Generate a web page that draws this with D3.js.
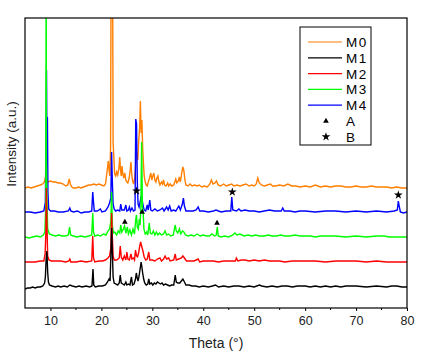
<!DOCTYPE html>
<html>
<head>
<meta charset="utf-8">
<script src="https://cdn.jsdelivr.net/npm/d3@7"></script>
<style>
  body { margin: 0; background: #fff; }
  text { font-family: "Liberation Sans", Arial, sans-serif; }
</style>
</head>
<body>
<div id="chart"></div>
<script>
// XRD patterns, [theta, intensity above own baseline]
const m0Data = [[5,0],[5.6,1],[6.2,0],[6.8,1],[7.4,2],[8,3],[8.5,4],[8.8,6],[9.0,10],[9.15,16],[9.3,9],[9.5,6],[10,7],[10.5,6],[11,6],[11.5,5],[12,5],[12.5,4],[13,2],[13.4,3],[13.7,9],[13.9,4],[14.2,1],[14.5,0],[15,0],[15.5,1],[16,0],[16.5,1],[17,2],[17.5,3],[18,3],[18.5,4],[19,3],[19.5,4],[20,3],[20.5,2],[20.8,4],[21.0,12],[21.2,20],[21.35,27],[21.5,18],[21.65,12],[21.8,40],[21.95,300],[22.15,300],[22.3,45],[22.45,30],[22.6,14],[22.8,12],[23.0,16],[23.2,13],[23.45,20],[23.6,31],[23.75,18],[23.9,12],[24.05,22],[24.2,14],[24.4,10],[24.6,15],[24.8,8],[25.0,6],[25.2,5],[25.45,10],[25.65,18],[25.8,26],[25.95,14],[26.1,8],[26.3,4],[26.5,8],[26.7,20],[26.85,30],[27.0,35],[27.15,28],[27.3,45],[27.5,60],[27.65,87],[27.8,55],[27.95,68],[28.1,40],[28.25,25],[28.4,12],[28.6,6],[28.8,3],[29.0,2],[29.2,6],[29.45,10],[29.7,15],[29.9,8],[30.1,12],[30.3,15],[30.5,8],[30.7,6],[30.9,10],[31.1,12],[31.3,6],[31.5,3],[31.8,6],[32.0,4],[32.2,8],[32.4,3],[32.7,2],[33.0,5],[33.2,2],[33.5,4],[33.8,2],[34.2,3],[34.6,9],[34.8,5],[35.1,7],[35.3,11],[35.5,6],[35.8,16],[36.0,21],[36.2,17],[36.4,8],[36.6,3],[37,2],[37.4,4],[37.8,2],[38.3,3],[38.8,2],[39.2,3],[39.7,1],[40.2,2],[40.8,1],[41.3,4],[41.6,8],[41.9,4],[42.3,5],[42.6,7],[42.9,3],[43.4,2],[44,4],[44.5,2],[45,3],[45.6,4],[46,2],[46.6,3],[47.2,2],[47.8,3],[48.4,4],[49,2],[49.5,3],[50,2],[50.4,4],[50.7,10],[51,5],[51.4,3],[52,2],[52.6,3],[53.2,4],[53.6,2],[54.2,2],[55,3],[55.8,2],[56.6,4],[57.4,2],[58.2,2],[59,1],[60,2],[61,1],[62,3],[63,1],[64,2],[65,1],[66,2],[67,2],[68,1],[69,1],[70,2],[71,1],[72,1],[73,2],[74,1],[75,1],[76,1],[77,0],[78,1],[79,0],[80,0]];

const m1Data = [[5,-2],[5.5,-1],[6,-1],[6.5,0],[7,-1],[7.5,0],[8,0],[8.5,1],[8.85,4],[9.0,10],[9.15,28],[9.3,36],[9.45,15],[9.6,5],[9.8,2],[10.3,1],[11,0],[11.5,1],[12,0],[12.7,1],[13.3,0],[13.8,2],[14.3,1],[15,0],[15.6,1],[16.2,0],[17,1],[17.7,0],[18.15,1],[18.35,18],[18.5,2],[18.8,0],[19.5,1],[20.2,1],[20.8,2],[21.2,5],[21.5,8],[21.7,6],[21.85,30],[22.0,59],[22.15,35],[22.3,10],[22.5,4],[22.8,3],[23.2,2],[23.5,4],[23.7,12],[23.9,4],[24.2,3],[24.5,2],[24.8,5],[25.0,2],[25.3,3],[25.6,2],[25.9,10],[26.1,2],[26.4,3],[26.7,8],[26.85,14],[27.0,10],[27.2,6],[27.4,11],[27.6,18],[27.8,25],[27.95,20],[28.1,14],[28.3,8],[28.5,4],[28.8,2],[29.1,3],[29.3,8],[29.5,3],[29.8,4],[30.1,2],[30.4,4],[30.7,3],[31.0,5],[31.3,4],[31.6,3],[31.9,4],[32.2,2],[32.6,3],[33.0,2],[33.4,1],[33.8,2],[34.2,2],[34.5,12],[34.7,5],[35.0,4],[35.4,4],[35.7,6],[36.0,8],[36.3,5],[36.6,2],[37.2,2],[37.8,1],[38.5,1],[39.2,0],[40,1],[41,0],[41.8,1],[42.4,2],[43,0],[44,1],[45,0],[46,1],[47,1],[48,0],[49,1],[50,0],[51,2],[51.5,1],[52.5,0],[53.5,1],[54.5,0],[55.5,1],[56.5,1],[57.5,0],[58.5,1],[60,1],[61,0],[62,1],[63,0],[64,1],[65,0],[66,1],[67,0],[68,1],[70,1],[72,0],[74,1],[76,0],[77,1],[78,1],[79,0],[80,0]];

const m2Data = [[5,0],[6,0],[7,0],[8,1],[8.7,1],[8.95,8],[9.1,30],[9.2,74],[9.3,40],[9.45,6],[9.7,2],[10.2,1],[11,1],[12,1],[13,0],[13.6,1],[13.8,3],[14.0,0],[15,0],[16,1],[17,0],[18.1,1],[18.3,26],[18.45,4],[18.7,0],[19.5,1],[20.2,1],[20.8,2],[21.3,4],[21.6,6],[21.85,14],[22.0,49],[22.15,25],[22.3,6],[22.5,2],[23.0,2],[23.5,4],[23.7,16],[23.9,5],[24.2,2],[24.5,6],[24.8,2],[25.0,10],[25.2,3],[25.5,2],[25.8,8],[26.0,3],[26.3,4],[26.5,2],[26.7,12],[26.9,6],[27.1,5],[27.3,9],[27.5,15],[27.7,20],[27.85,17],[28.0,14],[28.2,10],[28.4,5],[28.7,2],[29.0,3],[29.3,10],[29.5,2],[30,2],[30.5,1],[31,3],[31.5,4],[31.8,1],[32.2,3],[32.5,6],[32.8,3],[33.2,4],[33.5,1],[34.2,2],[34.5,8],[34.7,2],[35.2,3],[35.7,4],[36.0,6],[36.3,4],[36.7,1],[37.5,1],[38.2,1],[39.0,3],[39.3,0],[40,1],[41,1],[42,1],[43,0],[44,1],[45,1],[46.3,1],[46.5,4],[46.8,1],[47.5,2],[48.2,2],[49,1],[50,2],[51,1],[52,2],[53,1],[54,1],[55,1],[56,0],[57.5,1],[59,1],[60,1],[62,1],[64,0],[66,1],[68,1],[70,1],[72,0],[74,1],[76,0],[78,0],[80,0]];

const m3Data = [[5,0],[5.8,-1],[6.5,0],[7.3,1],[8,0],[8.6,2],[8.9,5],[9.08,30],[9.15,300],[9.2,80],[9.3,40],[9.45,8],[9.8,3],[10.3,2],[11,1],[11.6,2],[12.3,1],[13,1],[13.5,2],[13.75,10],[13.95,2],[14.5,1],[15.2,0],[16,1],[16.8,0],[17.5,1],[18.1,2],[18.3,24],[18.45,5],[18.7,1],[19.3,2],[19.8,1],[20.4,3],[20.9,2],[21.3,6],[21.6,8],[21.85,15],[22.0,45],[22.15,12],[22.35,4],[22.6,5],[23.0,2],[23.3,6],[23.6,4],[23.8,12],[24.0,5],[24.3,8],[24.55,11],[24.8,4],[25.1,10],[25.3,3],[25.6,7],[25.9,2],[26.2,8],[26.5,3],[26.75,18],[26.9,22],[27.05,10],[27.25,8],[27.45,18],[27.6,12],[27.75,30],[27.9,95],[28.05,30],[28.2,25],[28.35,8],[28.6,3],[28.9,5],[29.1,2],[29.4,14],[29.6,4],[29.9,3],[30.2,6],[30.5,2],[30.8,5],[31.1,2],[31.4,4],[31.8,2],[32.2,3],[32.5,6],[32.8,2],[33.2,3],[33.6,1],[34.1,2],[34.5,12],[34.7,6],[35.0,4],[35.3,8],[35.6,3],[35.9,6],[36.2,5],[36.5,2],[37,1],[37.6,2],[38.2,1],[38.8,3],[39.4,1],[40,2],[40.6,1],[41.2,1],[41.7,3],[42.2,1],[42.55,2],[42.75,10],[42.95,1],[43.5,0],[44.2,1],[45,0],[45.8,2],[46.2,4],[46.6,2],[47.2,3],[48,1],[48.8,2],[49.5,1],[50.3,2],[51,1],[52,1],[52.8,2],[53.5,1],[54.4,1],[55.2,2],[56,1],[57,1],[58,2],[59,1],[60,1],[61,1],[62,0],[63,1],[64,1],[66,1],[68,0],[70,1],[72,0],[74,1],[75.5,1],[76.5,0],[78,0],[80,0]];

const m4Data = [[5,0],[6,0],[7,-1],[8,0],[8.7,1],[9.0,10],[9.1,65],[9.22,142],[9.3,70],[9.4,95],[9.5,20],[9.65,3],[10,1],[10.8,1],[11.5,0],[12.5,0],[13.5,1],[13.8,4],[14.0,1],[14.5,0],[15.3,1],[16,-1],[16.8,0],[17.5,0],[18.1,1],[18.3,20],[18.45,10],[18.6,1],[19.2,1],[19.8,3],[20.1,0],[20.8,1],[21.3,5],[21.6,9],[21.85,14],[22.0,60],[22.15,30],[22.3,8],[22.5,3],[22.8,1],[23.2,2],[23.6,1],[23.8,8],[24.0,2],[24.5,2],[24.8,7],[25.0,1],[25.3,2],[25.5,5],[25.7,1],[26.0,4],[26.3,1],[26.6,2],[26.75,93],[26.9,88],[27.05,30],[27.2,8],[27.4,5],[27.6,10],[27.8,16],[28.0,12],[28.2,6],[28.4,2],[28.7,1],[29.0,7],[29.2,2],[29.5,12],[29.7,2],[30,1],[30.5,3],[31,1],[31.5,2],[32,4],[32.3,1],[32.8,5],[33.1,2],[33.4,6],[33.7,1],[34.2,2],[34.6,1],[35.2,6],[35.5,2],[35.9,8],[36.1,14],[36.3,6],[36.6,1],[37.2,1],[38,1],[38.6,2],[39,5],[39.3,1],[40,1],[41,0],[42,1],[42.5,2],[43.5,0],[44.5,1],[45.4,1],[45.6,15],[45.8,2],[46.5,1],[47,3],[47.4,1],[48.2,2],[49,1],[50,1],[51,0],[52,1],[53,2],[54,1],[55.3,1],[55.6,4],[55.9,1],[57,1],[58,0],[59,1],[60,1],[62,0],[64,1],[66,1],[68,0],[70,1],[72,0],[74,1],[76,0],[77.5,1],[78.1,2],[78.3,11],[78.5,5],[78.7,0],[79.3,-1],[80,0]];

const seriesNames = ['M0', 'M1', 'M2', 'M3', 'M4'];
const seriesColors = ['#ff7f00', '#000000', '#ff0000', '#00ff00', '#0000ff'];
const seriesOffsets = [120, 21, 46, 71, 96];
const seriesData = [m0Data, m1Data, m2Data, m3Data, m4Data];

// phase markers, [theta, intensity on the stacked scale]
const markA = [[24.6, 86], [28.0, 96], [42.7, 85]];
const markB = [[26.9, 117], [45.7, 116], [78.3, 113]];

const xTicks = [10, 20, 30, 40, 50, 60, 70, 80];
const xMinorTicks = [15, 25, 35, 45, 55, 65, 75];

const width = 428, height = 364;
const margin = {top: 18, right: 21, bottom: 56, left: 25};
const plotW = width - margin.left - margin.right;
const plotH = height - margin.top - margin.bottom;

const svg = d3.select('#chart').append('svg')
    .attr('width', width)
    .attr('height', height);

const xScale = d3.scaleLinear().domain([5, 80]).range([margin.left, margin.left + plotW]);
const yScale = d3.scaleLinear().domain([0, 290]).range([margin.top + plotH, margin.top]);

svg.append('clipPath').attr('id', 'plotClip')
    .append('rect')
    .attr('x', margin.left).attr('y', margin.top)
    .attr('width', plotW).attr('height', plotH);

const plot = svg.append('g').attr('clip-path', 'url(#plotClip)');

// back to front: M0, M4, M3, M2, M1
const drawOrder = [0, 4, 3, 2, 1];
drawOrder.forEach(i => {
    const line = d3.line()
        .x(d => xScale(d[0]))
        .y(d => yScale(d[1] + seriesOffsets[i]));
    plot.append('path')
        .datum(seriesData[i])
        .attr('d', line)
        .attr('fill', 'none')
        .attr('stroke', seriesColors[i])
        .attr('stroke-width', 1.4)
        .attr('stroke-linejoin', 'miter');
});

const triSym = d3.symbol().type(d3.symbolTriangle).size(14);
const starSym = d3.symbol().type(d3.symbolStar).size(24);

plot.selectAll('path.markA').data(markA).enter().append('path')
    .attr('class', 'markA')
    .attr('d', triSym)
    .attr('transform', d => 'translate(' + xScale(d[0]) + ',' + yScale(d[1]) + ')')
    .attr('fill', '#000');

plot.selectAll('path.markB').data(markB).enter().append('path')
    .attr('class', 'markB')
    .attr('d', starSym)
    .attr('transform', d => 'translate(' + xScale(d[0]) + ',' + yScale(d[1]) + ')')
    .attr('fill', '#000');

// frame
svg.append('rect')
    .attr('x', margin.left).attr('y', margin.top)
    .attr('width', plotW).attr('height', plotH)
    .attr('fill', 'none').attr('stroke', '#000').attr('stroke-width', 1.2);

// x axis
const xAxis = d3.axisBottom(xScale).tickValues(xTicks).tickSize(3).tickPadding(5).tickFormat(d3.format('d'));
const gx = svg.append('g')
    .attr('transform', 'translate(0,' + (margin.top + plotH) + ')')
    .call(xAxis);
gx.select('.domain').remove();
gx.selectAll('text').attr('font-size', 12.5).attr('fill', '#222')
    .style('font-family', '"Liberation Sans", Arial, sans-serif');

svg.append('g')
    .attr('transform', 'translate(0,' + (margin.top + plotH) + ')')
    .selectAll('line').data(xMinorTicks).enter().append('line')
    .attr('x1', d => xScale(d)).attr('x2', d => xScale(d))
    .attr('y1', 0).attr('y2', 2)
    .attr('stroke', '#000');

svg.append('text')
    .attr('x', margin.left + plotW / 2)
    .attr('y', 348)
    .attr('text-anchor', 'middle')
    .attr('font-size', 14)
    .attr('fill', '#222')
    .text('Theta (°)');

svg.append('text')
    .attr('transform', 'translate(16,' + (margin.top + 126) + ') rotate(-90)')
    .attr('text-anchor', 'middle')
    .attr('font-size', 13.5)
    .attr('fill', '#222')
    .text('Intensity (a.u.)');

// legend
const legend = svg.append('g').attr('transform', 'translate(300,27)');
legend.append('rect')
    .attr('width', 71).attr('height', 118)
    .attr('fill', '#fff').attr('stroke', '#000').attr('stroke-width', 1);

const legendRowH = 15.8;
seriesNames.forEach((name, i) => {
    const y = 15 + i * legendRowH;
    legend.append('line')
        .attr('x1', 8).attr('x2', 42)
        .attr('y1', y).attr('y2', y)
        .attr('stroke', seriesColors[i]).attr('stroke-width', 1.2);
    legend.append('text')
        .attr('x', 46).attr('y', y + 5)
        .attr('font-size', 13.5)
        .attr('letter-spacing', 1.5)
        .attr('fill', '#000')
        .text(name);
});

const markRows = [['A', triSym], ['B', starSym]];
markRows.forEach((m, j) => {
    const y = 15 + (5 + j) * legendRowH;
    legend.append('path')
        .attr('d', m[1])
        .attr('transform', 'translate(26,' + y + ')')
        .attr('fill', '#000');
    legend.append('text')
        .attr('x', 46).attr('y', y + 5)
        .attr('font-size', 13.5)
        .attr('fill', '#000')
        .text(m[0]);
});
</script>
</body>
</html>
